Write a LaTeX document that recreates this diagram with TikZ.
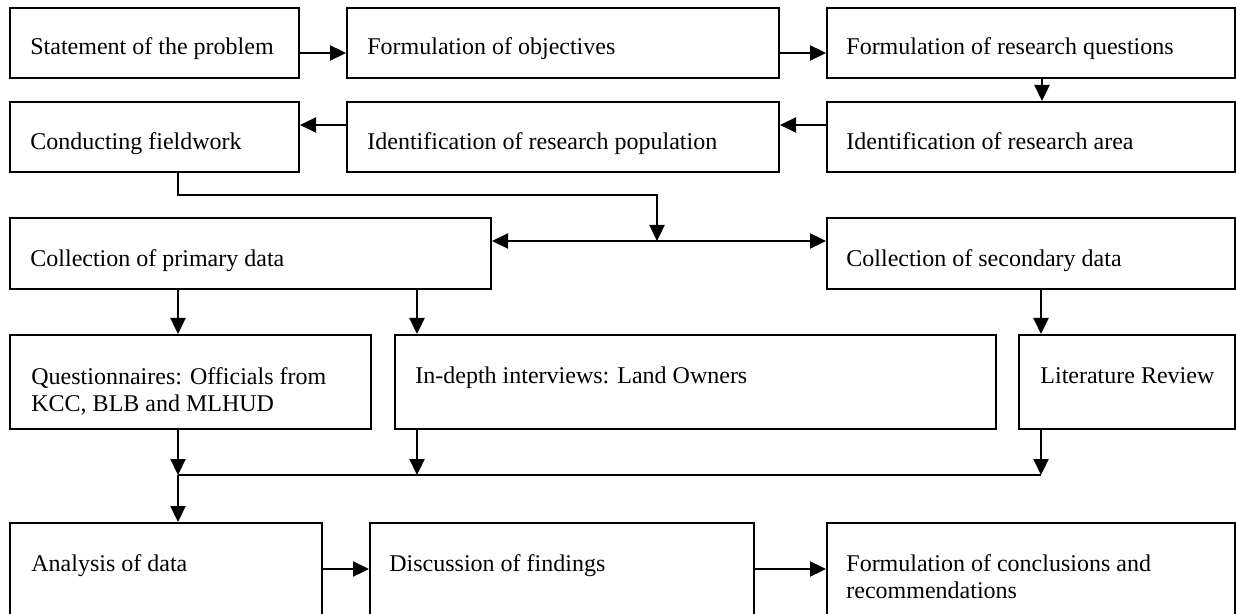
\documentclass[tikz,border=0pt]{standalone}
\usepackage{fontspec}
\setmainfont{Liberation Serif}
\usetikzlibrary{arrows.meta,calc}
\begin{document}
\begin{tikzpicture}[x=0.5pt,y=-0.5pt,
  box/.style={draw, line width=1pt, inner sep=0pt, anchor=north west, minimum height=#1},
  box/.default=35pt,
  txt/.style={anchor=base west, inner sep=0pt, font=\fontsize{12}{13.8}\selectfont, align=left},
  arr/.style={line width=1.15pt, -{Triangle[length=8pt,width=7.5pt]}},
  darr/.style={line width=1.15pt, {Triangle[length=8pt,width=7.5pt]}-{Triangle[length=8pt,width=7.5pt]}},
  ln/.style={line width=0.9pt}]
\useasboundingbox (0,0) rectangle (1236,614);
% row 1
\node[box, minimum width=144.5pt] (A) at (9,7) {};
\node[box, minimum width=216pt] (B) at (346,7) {};
\node[box, minimum width=204pt] (C) at (826,7) {};
% row 2
\node[box, minimum width=144.5pt] (D) at (9,101) {};
\node[box, minimum width=216pt] (E) at (346,101) {};
\node[box, minimum width=204pt] (F) at (826,101) {};
% row 3
\node[box=35.5pt, minimum width=240.5pt] (P) at (9,217) {};
\node[box=35.5pt, minimum width=204pt] (S) at (826,217) {};
% row 4
\node[box=47pt, minimum width=180.5pt] (Q) at (9,334) {};
\node[box=47pt, minimum width=300.5pt] (I) at (394,334) {};
\node[box=47pt, minimum width=108pt] (L) at (1018,334) {};
% row 5
\node[box=50pt, minimum width=156pt] (An) at (9,522) {};
\node[box=50pt, minimum width=192pt] (Di) at (369,522) {};
\node[box=50pt, minimum width=204pt] (Co) at (826,522) {};
% texts
\node[txt] (tA) at ($(A.north west)+(21,48)$) {Statement of the problem};
\node[txt] (tB) at ($(B.north west)+(21,48)$) {Formulation of objectives};
\node[txt] (tC) at ($(C.north west)+(20,48)$) {Formulation of research questions};
\node[txt] (tD) at ($(D.north west)+(21,49)$) {Conducting fieldwork};
\node[txt] (tE) at ($(E.north west)+(21,49)$) {Identification of research population};
\node[txt] (tF) at ($(F.north west)+(20,49)$) {Identification of research area};
\node[txt] (tP) at ($(P.north west)+(21,50)$) {Collection of primary data};
\node[txt] (tS) at ($(S.north west)+(20,50)$) {Collection of secondary data};
\node[txt] (tQ) at ($(Q.north west)+(22,77.6)$) {Questionnaires: Officials from\\KCC, BLB and MLHUD};
\node[txt] (tI) at ($(I.north west)+(21,50)$) {In-depth interviews: Land Owners};
\node[txt] (tL) at ($(L.north west)+(22,50)$) {Literature Review};
\node[txt] (tAn) at ($(An.north west)+(22,49)$) {Analysis of data};
\node[txt] (tDi) at ($(Di.north west)+(20,49)$) {Discussion of findings};
\node[txt] (tCo) at ($(Co.north west)+(20,76.6)$) {Formulation of conclusions and\\recommendations};
% connectors
\draw[arr] (A.east |- 0,53) -- (B.west |- 0,53);
\draw[arr] (B.east |- 0,53) -- (C.west |- 0,53);
\draw[arr] (C.south -| 1042,0) -- (F.north -| 1042,0);
\draw[arr] (F.west |- 0,125) -- (E.east |- 0,125);
\draw[arr] (E.west |- 0,125) -- (D.east |- 0,125);
\coordinate (j1) at (657,241);
\draw[arr] (D.south -| 178,0) |- (657,195) -- (j1);
\draw[darr] (P.east |- j1) -- (S.west |- j1);
\draw[arr] (P.south -| 178,0) -- (Q.north -| 178,0);
\draw[arr] (P.south -| 417,0) -- (I.north -| 417,0);
\draw[arr] (S.south -| 1041,0) -- (L.north -| 1041,0);
\coordinate (j2) at (178,475);
\coordinate (j3) at (417,475);
\coordinate (j4) at (1041,475);
\draw[arr] (Q.south -| j2) -- (j2);
\draw[arr] (I.south -| j3) -- (j3);
\draw[arr] (L.south -| j4) -- (j4);
\draw[ln] (j2) -- (j4);
\draw[arr] (j2) -- (An.north -| j2);
\draw[arr] (An.east |- 0,569) -- (Di.west |- 0,569);
\draw[arr] (Di.east |- 0,569) -- (Co.west |- 0,569);
\end{tikzpicture}
\end{document}
